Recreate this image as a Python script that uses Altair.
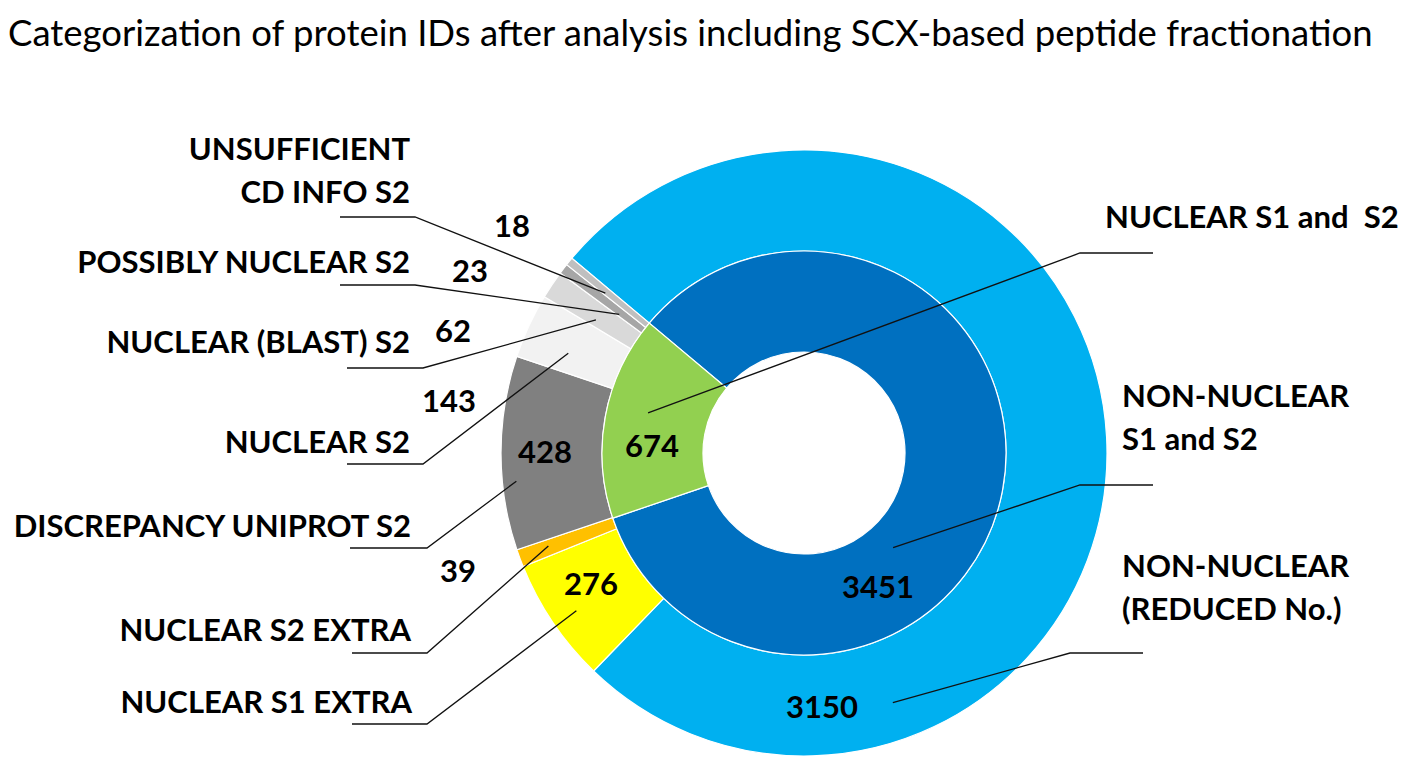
import math
import altair as alt
import pandas as pd

# ---------------- data ----------------
TITLE = "Categorization of protein IDs after analysis including SCX-based peptide fractionation"

outer_cats = ["NON-NUCLEAR (REDUCED No.)", "NUCLEAR S1 EXTRA", "NUCLEAR S2 EXTRA",
              "DISCREPANCY UNIPROT S2", "NUCLEAR S2", "NUCLEAR (BLAST) S2",
              "POSSIBLY NUCLEAR S2", "UNSUFFICIENT CD INFO S2"]
outer_vals = [3150, 276, 39, 428, 143, 62, 23, 18]
outer_labels = ["NON-NUCLEAR\n(REDUCED No.)", "NUCLEAR S1 EXTRA", "NUCLEAR S2 EXTRA",
                "DISCREPANCY UNIPROT S2", "NUCLEAR S2", "NUCLEAR (BLAST) S2",
                "POSSIBLY NUCLEAR S2", "UNSUFFICIENT\nCD INFO S2"]

inner_cats = ["NON-NUCLEAR S1 and S2", "NUCLEAR S1 and S2"]
inner_vals = [3451, 674]
inner_labels = ["NON-NUCLEAR\nS1 and S2", "NUCLEAR S1 and \u00a0S2"]

# ---------------- styles ----------------
outer_colors = ["#00B0F0", "#FFFF00", "#FFC000", "#808080", "#F2F2F2", "#D9D9D9", "#A6A6A6", "#BFBFBF"]
inner_colors = ["#0070C0", "#92D050"]

# ---------------- layout (page pixel frame) ----------------
PAD_TOP = 50
X0, X1 = 8, 1409
Y0, Y1 = 8 + PAD_TOP, 756
CX, CY = 804, 453
R_HOLE, R_MID, R_OUT = 101, 202, 303
START_DEG = -50.0
FONT = "Lato"

# category label anchors: (x, baseline y, side)
label_pos = {
    "UNSUFFICIENT CD INFO S2": (410, 160, "L"),
    "POSSIBLY NUCLEAR S2": (410, 273, "L"),
    "NUCLEAR (BLAST) S2": (410, 353, "L"),
    "NUCLEAR S2": (410, 453, "L"),
    "DISCREPANCY UNIPROT S2": (411, 537, "L"),
    "NUCLEAR S2 EXTRA": (411, 641, "L"),
    "NUCLEAR S1 EXTRA": (412, 713, "L"),
    "NUCLEAR S1 and S2": (1105, 228, "R"),
    "NON-NUCLEAR S1 and S2": (1122, 407, "R"),
    "NON-NUCLEAR (REDUCED No.)": (1122, 577, "R"),
}
# value label anchors: (center x, baseline y)
value_pos = {
    "UNSUFFICIENT CD INFO S2": (512, 237),
    "POSSIBLY NUCLEAR S2": (470, 282),
    "NUCLEAR (BLAST) S2": (453, 342),
    "NUCLEAR S2": (449, 412),
    "DISCREPANCY UNIPROT S2": (545, 463),
    "NUCLEAR S2 EXTRA": (458, 582),
    "NUCLEAR S1 EXTRA": (591, 595),
    "NUCLEAR S1 and S2": (652, 457),
    "NON-NUCLEAR S1 and S2": (878, 598),
    "NON-NUCLEAR (REDUCED No.)": (822, 718),
}
# leader lines: (outer x, elbow x, y, fraction within slice, tip radius)
leader_pos = {
    "UNSUFFICIENT CD INFO S2": (340, 415, 217, 0.25, 255),
    "POSSIBLY NUCLEAR S2": (340, 415, 285, 0.23, 231),
    "NUCLEAR (BLAST) S2": (347, 423, 368, 0.29, 247),
    "NUCLEAR S2": (347, 423, 464, 0.35, 256),
    "DISCREPANCY UNIPROT S2": (350, 427, 548, 0.35, 289),
    "NUCLEAR S2 EXTRA": (352, 427, 653, 0.60, 272),
    "NUCLEAR S1 EXTRA": (352, 427, 724, 0.47, 277),
    "NUCLEAR S1 and S2": (1153, 1080, 253, 0.565, 161),
    "NON-NUCLEAR S1 and S2": (1153, 1080, 485, 0.62, 130),
    "NON-NUCLEAR (REDUCED No.)": (1143, 1070, 653, 0.768, 265),
}

# ---------------- tables ----------------
outer_df = pd.DataFrame({"cat": outer_cats, "value": outer_vals, "idx": range(len(outer_vals)),
                         "x": CX, "y": CY})
inner_df = pd.DataFrame({"cat": inner_cats, "value": inner_vals, "idx": range(len(inner_vals)),
                         "x": CX, "y": CY})


def tips(cats, vals):
    total = float(sum(vals))
    out = {}
    cum = 0.0
    for c, v in zip(cats, vals):
        fx, fe, fy, frac, r = leader_pos[c]
        ang = math.radians(START_DEG + (cum + frac * v) / total * 360.0)
        out[c] = (CX + r * math.sin(ang), CY - r * math.cos(ang))
        cum += v
    return out


tip_xy = {}
tip_xy.update(tips(outer_cats, outer_vals))
tip_xy.update(tips(inner_cats, inner_vals))

all_cats = outer_cats + inner_cats
all_vals = outer_vals + inner_vals
all_labels = outer_labels + inner_labels

lead_rows = []
for c in all_cats:
    fx, ex, ly, _, _ = leader_pos[c]
    tx, ty = tip_xy[c]
    lead_rows += [{"cat": c, "seq": 0, "x": fx, "y": ly},
                  {"cat": c, "seq": 1, "x": ex, "y": ly},
                  {"cat": c, "seq": 2, "x": tx, "y": ty}]
lead_df = pd.DataFrame(lead_rows)

lab_rows = []
for c, t in zip(all_cats, all_labels):
    x, y, side = label_pos[c]
    lab_rows.append({"cat": c, "text": t, "x": x, "y": y, "side": side})
lab_df = pd.DataFrame(lab_rows)

val_df = pd.DataFrame([{"cat": c, "text": str(v), "x": value_pos[c][0], "y": value_pos[c][1]}
                       for c, v in zip(all_cats, all_vals)])

# ---------------- chart ----------------
XS = alt.Scale(domain=[X0, X1], nice=False, zero=False)
YS = alt.Scale(domain=[Y0, Y1], nice=False, zero=False, reverse=True)
X = alt.X("x:Q", scale=XS, axis=None)
Y = alt.Y("y:Q", scale=YS, axis=None)
COLOR = alt.Color("cat:N", scale=alt.Scale(domain=all_cats, range=outer_colors + inner_colors), legend=None)
theta_range = [math.radians(START_DEG), math.radians(START_DEG + 360.0)]

outer_arc = alt.Chart(outer_df).mark_arc(
    innerRadius=R_MID, outerRadius=R_OUT, stroke="white", strokeWidth=1.2
).encode(
    x=X, y=Y,
    theta=alt.Theta("value:Q", stack=True, scale=alt.Scale(range=theta_range)),
    order=alt.Order("idx:Q"),
    color=COLOR,
)
inner_arc = alt.Chart(inner_df).mark_arc(
    innerRadius=R_HOLE, outerRadius=R_MID, stroke="white", strokeWidth=1.2
).encode(
    x=X, y=Y,
    theta=alt.Theta("value:Q", stack=True, scale=alt.Scale(range=theta_range)),
    order=alt.Order("idx:Q"),
    color=COLOR,
)

leaders = alt.Chart(lead_df).mark_line(color="#111111", strokeWidth=1.3).encode(
    x=X, y=Y, detail="cat:N", order="seq:Q"
)

text_common = dict(font=FONT, fontWeight="bold", fontSize=31, color="black",
                   baseline="alphabetic", lineBreak="\n", lineHeight=43)
left_labels = alt.Chart(lab_df).transform_filter(alt.datum.side == "L").mark_text(
    align="right", **text_common).encode(x=X, y=Y, text="text:N")
right_labels = alt.Chart(lab_df).transform_filter(alt.datum.side == "R").mark_text(
    align="left", **text_common).encode(x=X, y=Y, text="text:N")
values = alt.Chart(val_df).mark_text(align="center", **text_common).encode(x=X, y=Y, text="text:N")

chart = alt.layer(
    outer_arc, inner_arc, leaders, left_labels, right_labels, values
).resolve_scale(theta="independent").properties(
    width=X1 - X0, height=Y1 - Y0,
    padding={"left": 0, "top": PAD_TOP, "right": 0, "bottom": 0},
    autosize="none",
    title=alt.TitleParams(TITLE, anchor="start", font=FONT, fontSize=36.5, fontWeight="normal",
                          color="black", offset=5),
    background="white",
).configure_view(stroke=None)

chart.save("out.html", embed_options={"renderer": "svg", "actions": False})
